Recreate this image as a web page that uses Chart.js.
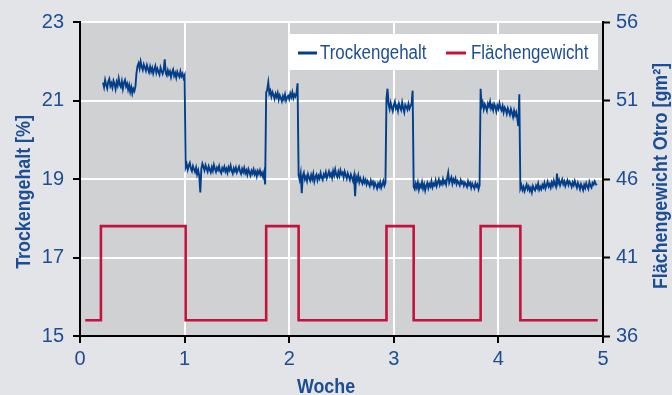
<!DOCTYPE html>
<html>
<head>
<meta charset="utf-8">
<script src="https://cdn.jsdelivr.net/npm/chart.js@4/dist/chart.umd.min.js"></script>
<style>
  html, body { margin: 0; padding: 0; background: #e2e4e7; }
  canvas { display: block; background: #e2e4e7; }
</style>
</head>
<body>
<canvas id="chart" width="672" height="395"></canvas>
<script>
// Trockengehalt [%], sampled every 0.01 weeks from week 0.22
const sampleStart = 0.22;
const sampleStep = 0.01;
const trockengehalt = [
  // 0.22 - 0.53
  21.46, 21.34, 21.52, 21.40, 21.31, 21.48, 21.55, 21.37, 21.44, 21.33,
  21.50, 21.42, 21.29, 21.47, 21.38, 21.56, 21.41, 21.35, 21.49, 21.30,
  21.45, 21.52, 21.36, 21.43, 21.28, 21.39, 21.22, 21.34, 21.18, 21.30,
  21.24, 21.36,
  // 0.54 - 1.00
  21.70, 21.88, 21.95, 21.82, 21.99, 21.86, 21.78, 21.92, 21.84, 21.76,
  21.90, 21.80, 21.72, 21.86, 21.74, 21.83, 21.69, 21.79, 21.88, 21.71,
  21.81, 21.73, 21.66, 21.84, 21.75, 21.68, 21.78, 22.05, 21.70, 21.64,
  21.77, 21.67, 21.74, 21.60, 21.72, 21.79, 21.63, 21.70, 21.58, 21.73,
  21.66, 21.60, 21.74, 21.62, 21.68, 21.57, 21.64,
  // 1.01 - 1.77
  19.30, 19.38, 19.24, 19.34, 19.41, 19.27, 19.20, 19.33, 19.25, 19.18,
  19.29, 19.12, 19.22, 19.08, 18.66, 19.26, 19.39, 19.31, 19.22, 19.35,
  19.27, 19.19, 19.32, 19.24, 19.17, 19.30, 19.21, 19.36, 19.26, 19.18,
  19.29, 19.23, 19.33, 19.20, 19.15, 19.28, 19.22, 19.31, 19.19, 19.26,
  19.16, 19.30, 19.23, 19.34, 19.21, 19.14, 19.27, 19.20, 19.29, 19.17,
  19.24, 19.31, 19.19, 19.13, 19.26, 19.18, 19.28, 19.15, 19.22, 19.11,
  19.25, 19.17, 19.09, 19.21, 19.14, 19.24, 19.12, 19.19, 19.07, 19.20,
  19.13, 19.22, 19.10, 19.16, 19.06, 19.18, 18.86,
  // 1.78 - 2.08
  21.20, 21.28, 21.46, 21.18, 21.25, 21.10, 21.21, 21.14, 21.04, 21.17,
  21.09, 21.19, 21.02, 21.13, 21.06, 20.98, 21.11, 21.03, 21.15, 21.00,
  21.08, 21.12, 21.04, 21.18, 21.09, 21.21, 21.06, 21.15, 21.10, 21.19,
  21.44,
  // 2.09 - 2.92
  19.10, 18.98, 19.14, 18.64, 19.08, 19.16, 18.99, 19.06, 18.95, 19.12,
  19.03, 18.96, 19.10, 19.00, 19.13, 18.94, 19.05, 19.11, 18.97, 19.08,
  19.01, 19.15, 19.04, 18.98, 19.12, 19.06, 19.17, 19.02, 19.10, 19.19,
  19.07, 19.14, 19.03, 19.20, 19.09, 19.24, 19.11, 19.05, 19.18, 19.08,
  19.22, 19.12, 19.16, 19.04, 19.19, 19.10, 19.01, 19.14, 19.06, 18.98,
  19.11, 19.03, 18.95, 19.08, 18.56, 19.05, 18.97, 19.09, 18.92, 19.02,
  18.94, 18.88, 19.01, 18.91, 18.98, 18.86, 18.95, 18.89, 18.82, 18.96,
  18.87, 18.93, 18.80, 18.90, 18.84, 18.76, 18.88, 18.81, 18.92, 18.78,
  18.86, 18.95, 18.83, 18.90,
  // 2.93 - 3.18
  21.05, 21.30, 20.90, 20.78, 20.94, 20.82, 20.73, 20.88, 20.97, 20.80,
  20.86, 20.74, 20.92, 20.83, 20.76, 20.95, 20.81, 20.70, 20.89, 20.84,
  20.77, 20.91, 20.79, 20.86, 20.93, 21.25,
  // 3.19 - 3.82
  18.80, 18.74, 18.88, 18.78, 18.91, 18.73, 18.85, 18.79, 18.92, 18.76,
  18.86, 18.71, 18.83, 18.90, 18.77, 18.87, 18.81, 18.94, 18.79, 18.88,
  18.84, 18.96, 18.82, 18.91, 18.99, 18.85, 18.93, 18.87, 19.00, 18.89,
  18.95, 18.86, 19.02, 19.16, 18.90, 18.97, 19.04, 18.88, 18.99, 18.92,
  19.01, 18.87, 18.95, 18.90, 18.84, 18.97, 18.89, 18.93, 18.83, 18.91,
  18.86, 18.80, 18.94, 18.85, 18.90, 18.78, 18.88, 18.82, 18.76, 18.89,
  18.81, 18.86, 18.74, 18.84,
  // 3.83 - 4.20
  21.30, 20.86, 20.95, 20.78, 20.90, 20.83, 20.74, 20.92, 20.85, 20.97,
  20.80, 20.88, 20.76, 20.91, 20.84, 20.72, 20.87, 20.79, 20.93, 20.81,
  20.75, 20.86, 20.70, 20.82, 20.77, 20.66, 20.80, 20.72, 20.64, 20.78,
  20.69, 20.58, 20.74, 20.62, 20.70, 20.55, 20.35, 21.16,
  // 4.21 - 4.94
  18.76, 18.84, 18.72, 18.80, 18.69, 18.78, 18.86, 18.74, 18.81, 18.70,
  18.77, 18.66, 18.82, 18.75, 18.71, 18.83, 18.77, 18.88, 18.73, 18.80,
  18.74, 18.85, 18.79, 18.90, 18.76, 18.84, 18.93, 18.81, 18.87, 18.78,
  18.91, 18.83, 18.96, 18.86, 18.80, 19.14, 18.89, 18.97, 18.84, 18.92,
  18.99, 18.87, 18.94, 18.82, 18.90, 18.97, 18.85, 18.93, 18.88, 18.80,
  18.91, 18.84, 18.95, 18.86, 18.78, 18.90, 18.83, 18.74, 18.87, 18.80,
  18.72, 18.85, 18.77, 18.89, 18.81, 18.75, 18.92, 18.83, 18.78, 18.90,
  18.86, 18.94, 18.88, 18.84
];

// Flächengewicht Otro, step changes (value holds until the next week mark)
const stepWeeks = [0.05, 0.20, 1.01, 1.78, 2.09, 2.93, 3.19, 3.83, 4.21, 4.95];
const flaechengewicht = [37.0, 43.0, 37.0, 43.0, 37.0, 43.0, 37.0, 43.0, 37.0, 37.0];

const xTicks = [0, 1, 2, 3, 4, 5];
const leftTicks = [15, 17, 19, 21, 23];
const rightTicks = [36, 41, 46, 51, 56];

const FONT = "'Liberation Sans', Arial, sans-serif";
const TEXT = '#1d4e93';
const BLUE = '#033e8a';
const RED = '#c4123f';

const trockenPoints = trockengehalt.map((v, i) => ({ x: sampleStart + i * sampleStep, y: v }));
const flaechenPoints = stepWeeks.map((w, i) => ({ x: w, y: flaechengewicht[i] }));

// gray plot area
const plotBg = {
  id: 'plotBg',
  beforeDraw(chart) {
    const { ctx, chartArea: a } = chart;
    ctx.save();
    ctx.fillStyle = '#d0d1d3';
    ctx.fillRect(a.left, a.top, a.right - a.left, a.bottom - a.top);
    ctx.restore();
  }
};

// condensed-looking text: squeeze horizontally
function narrowText(ctx, text, x, y, rot, font, sx, align, base) {
  ctx.save();
  ctx.translate(x, y);
  ctx.rotate(rot);
  ctx.scale(sx, 1);
  ctx.font = font;
  ctx.textAlign = align;
  ctx.textBaseline = base;
  ctx.fillText(text, 0, 0);
  ctx.restore();
}

// axis titles + legend box
const overlay = {
  id: 'overlay',
  afterDraw(chart) {
    const { ctx } = chart;
    const bold = 'bold 21px ' + FONT;
    ctx.save();
    ctx.fillStyle = TEXT;
    narrowText(ctx, 'Trockengehalt [%]', 24, 192, -Math.PI / 2, bold, 0.85, 'center', 'middle');
    narrowText(ctx, 'Flächengewicht Otro [gm²]', 661, 176, -Math.PI / 2, bold, 0.85, 'center', 'middle');
    narrowText(ctx, 'Woche', 326, 387, 0, bold, 0.85, 'center', 'middle');

    // legend
    ctx.fillStyle = '#ffffff';
    ctx.fillRect(290, 34, 308, 36);
    ctx.lineWidth = 3;
    ctx.strokeStyle = BLUE;
    ctx.beginPath(); ctx.moveTo(298, 53); ctx.lineTo(317, 53); ctx.stroke();
    ctx.strokeStyle = RED;
    ctx.beginPath(); ctx.moveTo(446, 53); ctx.lineTo(466, 53); ctx.stroke();
    ctx.fillStyle = TEXT;
    narrowText(ctx, 'Trockengehalt', 320, 59, 0, '20px ' + FONT, 0.845, 'left', 'alphabetic');
    narrowText(ctx, 'Flächengewicht', 471, 59, 0, '20px ' + FONT, 0.845, 'left', 'alphabetic');
    ctx.restore();
  }
};

const tickFont = { family: FONT, size: 20 };

new Chart(document.getElementById('chart'), {
  type: 'line',
  data: {
    datasets: [
      { label: 'Trockengehalt', data: trockenPoints, yAxisID: 'y', borderColor: BLUE, borderWidth: 1.9, pointRadius: 0, tension: 0 },
      { label: 'Flächengewicht', data: flaechenPoints, yAxisID: 'y2', borderColor: RED, borderWidth: 2.6, pointRadius: 0, stepped: 'before' }
    ]
  },
  options: {
    responsive: false,
    animation: false,
    events: [],
    layout: { padding: { top: 22, left: 0, right: 0, bottom: 0 } },
    plugins: { legend: { display: false }, tooltip: { enabled: false } },
    scales: {
      x: {
        type: 'linear', min: 0, max: 5,
        afterBuildTicks: s => { s.ticks = xTicks.map(v => ({ value: v })); },
        afterFit: s => { s.height = 59; },
        ticks: { color: TEXT, font: tickFont, padding: 4, maxRotation: 0 },
        grid: { color: c => (c.tick && (c.tick.value === 0 || c.tick.value === 5)) ? 'rgba(0,0,0,0)' : '#ffffff', lineWidth: 2, tickLength: 7, tickColor: '#000', tickWidth: 2 },
        border: { color: '#000', width: 2 }
      },
      y: {
        position: 'left', min: 15, max: 23,
        afterBuildTicks: s => { s.ticks = leftTicks.map(v => ({ value: v })); },
        afterFit: s => { s.width = 80; },
        ticks: { color: TEXT, font: tickFont, padding: 9 },
        grid: { color: c => (c.tick && c.tick.value === 15) ? 'rgba(0,0,0,0)' : '#ffffff', lineWidth: 2, tickLength: 7, tickColor: '#000', tickWidth: 2 },
        border: { color: '#000', width: 2 }
      },
      y2: {
        position: 'right', min: 36, max: 56,
        afterBuildTicks: s => { s.ticks = rightTicks.map(v => ({ value: v })); },
        afterFit: s => { s.width = 69; },
        ticks: { color: TEXT, font: tickFont, padding: 6 },
        grid: { drawOnChartArea: false, tickLength: 7, tickColor: '#000', tickWidth: 2 },
        border: { color: '#000', width: 2 }
      }
    }
  },
  plugins: [plotBg, overlay]
});
</script>
</body>
</html>
